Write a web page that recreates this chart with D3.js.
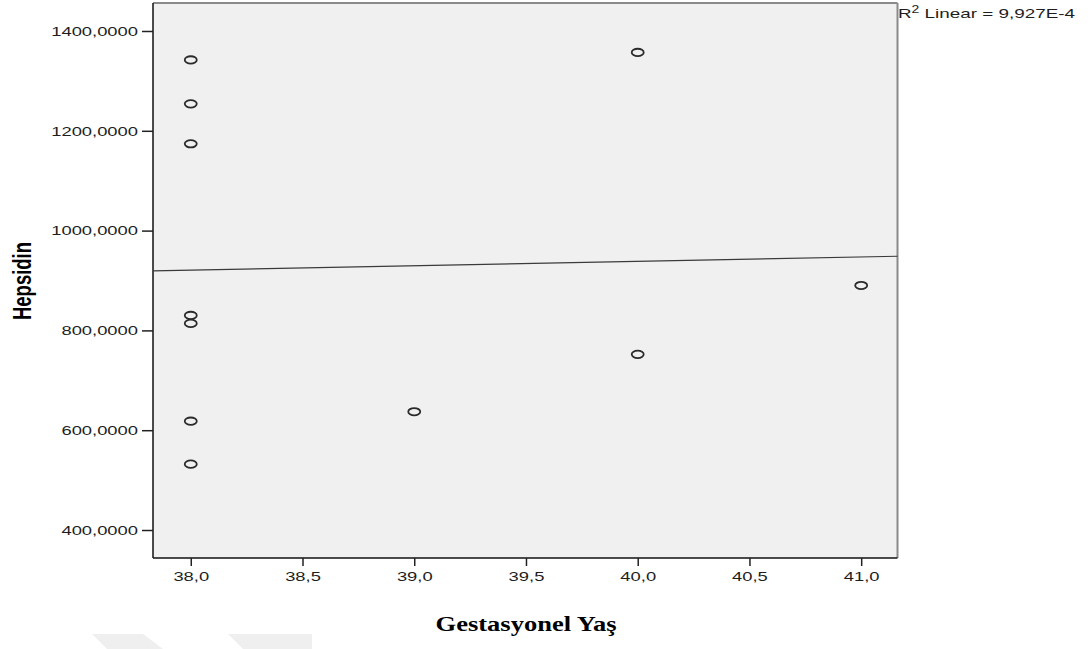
<!DOCTYPE html>
<html>
<head>
<meta charset="utf-8">
<script src="https://cdn.jsdelivr.net/npm/d3@7"></script>
<style>
  html, body { margin: 0; padding: 0; background: #ffffff; }
  svg { display: block; }
</style>
</head>
<body>
<svg id="chart" width="1088" height="649"></svg>
<script>
// ---- data ----
const gestasyonelYas = [38, 38, 38, 38, 38, 38, 38, 39, 40, 40, 41];
const hepsidin = [1342, 1254, 1174, 830, 814, 618, 532, 637, 1357, 752, 890];
const xTicks = [38.0, 38.5, 39.0, 39.5, 40.0, 40.5, 41.0];
const yTicks = [400, 600, 800, 1000, 1200, 1400];
const xDomain = [37.831, 41.1625];
const yDomain = [343.9, 1456.1];
const xTitle = "Gestasyonel Yaş";
const yTitle = "Hepsidin";
const r2Text = "Linear = 9,927E-4";

const STRETCH = 1.36; // the reference's text is widened horizontally

const svg = d3.select("#chart");
const plot = { left: 153, right: 897.5, top: 3, bottom: 558 };

const x = d3.scaleLinear().domain(xDomain).range([plot.left, plot.right]);
const y = d3.scaleLinear().domain(yDomain).range([plot.bottom, plot.top]);

// faint watermark shapes at bottom-left
const wm = svg.append("g").attr("fill", "#efefef");
wm.append("polygon").attr("points", "92,634 143,634 163,649 107,649");
wm.append("polygon").attr("points", "228,634 312,634 312,649 243,649");

// plot background
svg.append("rect")
  .attr("x", plot.left).attr("y", plot.top)
  .attr("width", plot.right - plot.left).attr("height", plot.bottom - plot.top)
  .attr("fill", "#f0f0f0");

// top and right frame (gray)
svg.append("line").attr("x1", plot.left).attr("x2", plot.right)
  .attr("y1", plot.top).attr("y2", plot.top)
  .attr("stroke", "#8a8a8a").attr("stroke-width", 2);
svg.append("line").attr("x1", plot.right).attr("x2", plot.right)
  .attr("y1", plot.top).attr("y2", plot.bottom)
  .attr("stroke", "#8a8a8a").attr("stroke-width", 2);

const fmtX = v => d3.format(".1f")(v).replace(".", ",");
const fmtY = v => d3.format(".4f")(v).replace(".", ",");

// x axis
const gx = svg.append("g")
  .attr("transform", `translate(0,${plot.bottom})`)
  .call(d3.axisBottom(x).tickValues(xTicks).tickFormat(fmtX).tickSize(8).tickPadding(5));
// y axis
const gy = svg.append("g")
  .attr("transform", `translate(${plot.left},0)`)
  .call(d3.axisLeft(y).tickValues(yTicks).tickFormat(fmtY).tickSize(11).tickPadding(4));

[gx, gy].forEach(g => {
  g.select(".domain").attr("stroke", "#111").attr("stroke-width", 1.5);
  g.selectAll(".tick line").attr("stroke", "#222").attr("stroke-width", 1.5);
  g.selectAll(".tick text")
    .attr("fill", "#1e1e1e")
    .style("font-family", "'Liberation Sans', Arial, sans-serif")
    .style("font-size", "13.5px");
});
// widen tick labels like the reference
svg.selectAll(".tick text").each(function() {
  const w = this.getComputedTextLength();
  d3.select(this).attr("textLength", w * STRETCH).attr("lengthAdjust", "spacingAndGlyphs");
});
gy.select(".domain").attr("d", `M0,${plot.top}V${plot.bottom}`);
gx.select(".domain").attr("d", `M${plot.left},0H${plot.right}`);

// regression line (least squares from the data)
const mx = d3.mean(gestasyonelYas), my = d3.mean(hepsidin);
let sxy = 0, sxx = 0;
gestasyonelYas.forEach((xv, i) => { sxy += (xv - mx) * (hepsidin[i] - my); sxx += (xv - mx) ** 2; });
const slope = sxy / sxx, intercept = my - slope * mx;
svg.append("line")
  .attr("x1", x(xDomain[0])).attr("y1", y(intercept + slope * xDomain[0]))
  .attr("x2", x(xDomain[1])).attr("y2", y(intercept + slope * xDomain[1]))
  .attr("stroke", "#3a3a3a").attr("stroke-width", 1.2);

// points
svg.append("g").selectAll("ellipse")
  .data(gestasyonelYas.map((g, i) => ({ g, h: hepsidin[i] })))
  .join("ellipse")
  .attr("cx", d => x(d.g)).attr("cy", d => y(d.h))
  .attr("rx", 6).attr("ry", 3.7)
  .attr("fill", "none").attr("stroke", "#2a2a2a").attr("stroke-width", 1.8);

// R² annotation
const r2 = svg.append("text")
  .attr("x", 898).attr("y", 18)
  .attr("fill", "#1e1e1e")
  .style("font-family", "'Liberation Sans', Arial, sans-serif")
  .style("font-size", "13.5px");
r2.append("tspan").text("R");
r2.append("tspan").attr("dy", -5).style("font-size", "10px").text("2");
r2.append("tspan").attr("dy", 5).text(" " + r2Text);
r2.attr("textLength", 177).attr("lengthAdjust", "spacingAndGlyphs");

// y title
svg.append("text")
  .attr("transform", "translate(31,281) scale(1.33,1) rotate(-90)")
  .attr("text-anchor", "middle")
  .attr("fill", "#000")
  .style("font-family", "'Liberation Sans Narrow', 'Liberation Sans', Arial, sans-serif")
  .style("font-weight", "bold")
  .style("font-size", "19px")
  .attr("textLength", 78).attr("lengthAdjust", "spacingAndGlyphs")
  .text(yTitle);

// x title
svg.append("text")
  .attr("x", 526).attr("y", 631)
  .attr("text-anchor", "middle")
  .attr("fill", "#000")
  .style("font-family", "'Liberation Serif', 'Times New Roman', serif")
  .style("font-weight", "bold")
  .style("font-size", "21px")
  .attr("textLength", 181).attr("lengthAdjust", "spacingAndGlyphs")
  .text(xTitle);
</script>
</body>
</html>
